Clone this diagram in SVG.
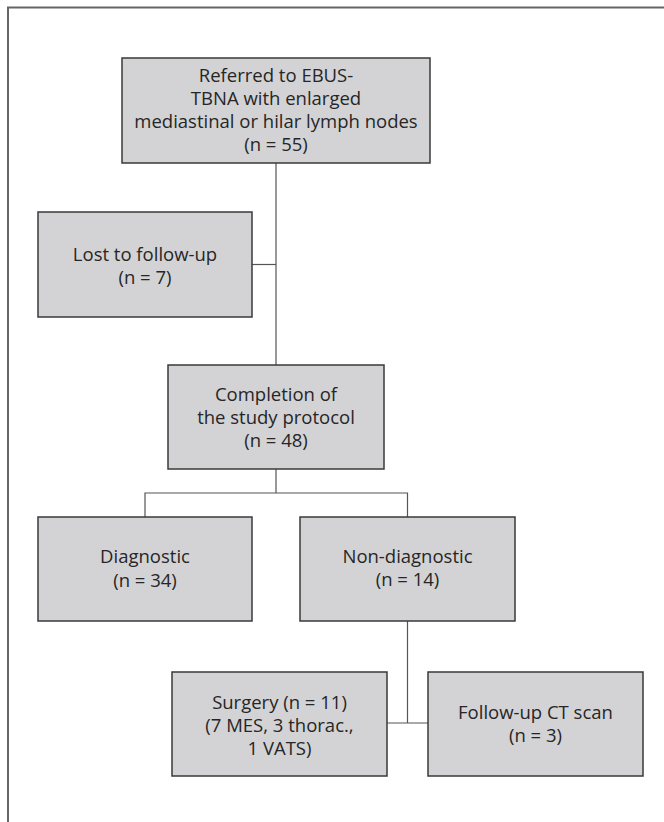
<svg xmlns="http://www.w3.org/2000/svg" width="664" height="822" viewBox="0 0 664 822">
<style>
.box{fill:#d3d3d5;stroke:#3a3a3a;stroke-width:1.5}
.t{font-family:"Open Sans","Noto Sans","DejaVu Sans",sans-serif;font-size:18.5px;fill:#262626;text-anchor:middle}
.c{fill:none;stroke:#555;stroke-width:1.2}
.frame{fill:none;stroke:#666;stroke-width:2}
</style>
<rect width="664" height="822" fill="#fff"/>
<path class="frame" d="M8,822 V7.5 H664"/>
<g id="connectors">
<path class="c" d="M276,163 V365"/>
<path class="c" d="M252,264.5 H276"/>
<path class="c" d="M276,469 V493 M145,517 V493 H407.5 V517"/>
<path class="c" d="M407.5,621 V723 M387,723 H428"/>
</g>
<g id="referred">
<rect class="box" x="122" y="58" width="308" height="105"/>
<text class="t" x="276" y="82">Referred to EBUS-</text>
<text class="t" x="276" y="105">TBNA with enlarged</text>
<text class="t" x="276" y="128">mediastinal or hilar lymph nodes</text>
<text class="t" x="276" y="151">(n = 55)</text>
</g>
<g id="lost">
<rect class="box" x="38" y="212" width="214" height="105"/>
<text class="t" x="145" y="261">Lost to follow-up</text>
<text class="t" x="145" y="284">(n = 7)</text>
</g>
<g id="completion">
<rect class="box" x="168" y="365" width="216" height="104"/>
<text class="t" x="276" y="401">Completion of</text>
<text class="t" x="276" y="424">the study protocol</text>
<text class="t" x="276" y="447">(n = 48)</text>
</g>
<g id="diagnostic">
<rect class="box" x="38" y="517" width="214" height="104"/>
<text class="t" x="145" y="563">Diagnostic</text>
<text class="t" x="145" y="587">(n = 34)</text>
</g>
<g id="nondiagnostic">
<rect class="box" x="300" y="517" width="215" height="104"/>
<text class="t" x="407.5" y="563">Non-diagnostic</text>
<text class="t" x="407.5" y="586">(n = 14)</text>
</g>
<g id="surgery">
<rect class="box" x="172" y="672" width="215" height="104"/>
<text class="t" x="279.5" y="709">Surgery (n = 11)</text>
<text class="t" x="279.5" y="732">(7 MES, 3 thorac.,</text>
<text class="t" x="279.5" y="755">1 VATS)</text>
</g>
<g id="followup">
<rect class="box" x="428" y="672" width="215" height="104"/>
<text class="t" x="535.5" y="719">Follow-up CT scan</text>
<text class="t" x="535.5" y="742">(n = 3)</text>
</g>
</svg>
